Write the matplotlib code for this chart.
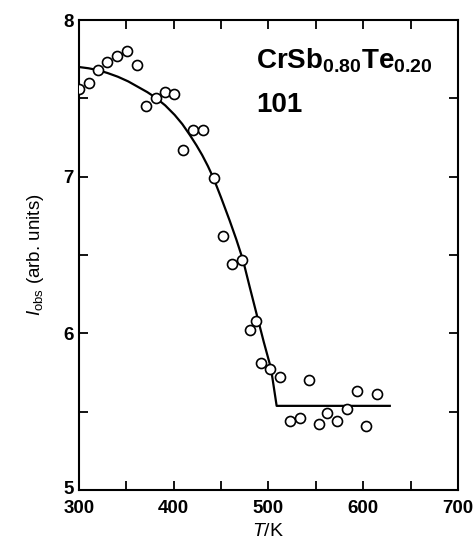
import numpy as np
import matplotlib.pyplot as plt
import matplotlib.transforms as mtransforms
from matplotlib.ticker import MultipleLocator

plt.rcParams['font.family'] = ['Liberation Sans', 'DejaVu Sans']
plt.rcParams['mathtext.fontset'] = 'custom'
plt.rcParams['mathtext.rm'] = 'Liberation Sans'
plt.rcParams['mathtext.it'] = 'Liberation Sans:italic'
plt.rcParams['mathtext.bf'] = 'Liberation Sans:bold'

# measured intensities of the 101 reflection
temp = [300, 311, 320, 330, 340, 351, 361, 371, 381, 391, 400, 410, 420, 431,
        442, 452, 462, 472, 481, 487, 492, 502, 512, 523, 533, 543, 553, 562,
        572, 583, 593, 603, 614]
i_obs = [7.56, 7.60, 7.68, 7.73, 7.77, 7.80, 7.71, 7.45, 7.50, 7.54, 7.53, 7.17,
         7.30, 7.30, 6.99, 6.62, 6.44, 6.47, 6.02, 6.08, 5.81, 5.77, 5.72, 5.44,
         5.46, 5.70, 5.42, 5.49, 5.44, 5.52, 5.63, 5.41, 5.61]

# guide curve through the data
fit_t = [300, 310, 320, 330, 341, 352, 362, 372, 381, 391, 401, 409, 417, 424,
         430, 436, 442, 450, 459, 466, 473, 480, 488, 495, 502.6, 508.6, 628]
fit_i = [7.70, 7.692, 7.68, 7.662, 7.638, 7.608, 7.574, 7.54, 7.504, 7.455,
         7.394, 7.336, 7.266, 7.20, 7.138, 7.068, 6.99, 6.866, 6.72, 6.60, 6.47,
         6.30, 6.11, 5.945, 5.777, 5.537, 5.537]

fig = plt.figure(figsize=(4.75, 5.44), dpi=100)
ax = fig.add_axes([0.1663, 0.0993, 0.7979, 0.8639])

ax.plot(fit_t, fit_i, color='black', lw=1.6, zorder=2)
ax.plot(temp, i_obs, 'o', ms=7.2, mfc='white', mec='black', mew=1.2, zorder=3)

ax.set_xlim(300, 700)
ax.set_ylim(5, 8)
ax.xaxis.set_major_locator(MultipleLocator(100))
ax.xaxis.set_minor_locator(MultipleLocator(50))
ax.yaxis.set_major_locator(MultipleLocator(1))
ax.yaxis.set_minor_locator(MultipleLocator(0.5))
ax.tick_params(which='both', direction='in', top=True, right=True,
               length=6.5, width=1.3, labelsize=13.5)
ax.tick_params(axis='x', pad=7.5)
ax.tick_params(axis='y', pad=4)
for lab in ax.get_xticklabels() + ax.get_yticklabels():
    lab.set_fontweight('bold')
for sp in ax.spines.values():
    sp.set_linewidth(1.5)

# nudge the lowest y label up so it clears the "300" below it
lab5 = ax.yaxis.get_major_ticks()[1].label1
lab5.set_transform(lab5.get_transform() +
                   mtransforms.ScaledTranslation(0, 2 / 72, fig.dpi_scale_trans))

ax.set_xlabel(r'$\mathit{T}$/K', fontsize=14, labelpad=4)
ax.set_ylabel(r'$\mathit{I}_{\mathrm{obs}}$ (arb. units)', fontsize=13.5, labelpad=12)

ax.text(487, 7.69, r'$\mathbf{CrSb_{0.80}Te_{0.20}}$', fontsize=20)
ax.text(487, 7.41, '101', fontsize=20, fontweight='bold')

fig.savefig('out.png', dpi=100)
